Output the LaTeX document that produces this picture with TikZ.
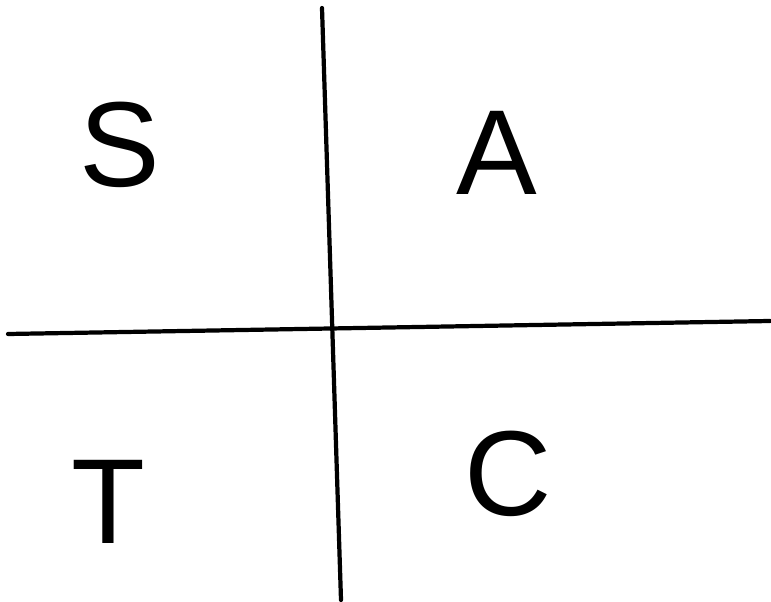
\documentclass[tikz,border=0pt]{standalone}
\usepackage{fontspec}
\setmainfont{Liberation Sans}
\usepackage{tikz}

\tikzset{
  axisline/.style={line width=3pt,line cap=round,black},
  quadletter/.style={font=\fontsize{86}{86}\selectfont, inner sep=0pt}
}

\begin{document}
\begin{tikzpicture}[x=0.025cm,y=-0.025cm]
		% canvas
		\useasboundingbox (0,0) rectangle (771,602);
		% ends of the two axes
		\coordinate (top) at (322,8);
		\coordinate (bottom) at (341,600);
		\coordinate (left) at (8,334);
		\coordinate (right) at (770,321);
		\draw[axisline] (top) -- (bottom);
		\draw[axisline] (left) -- (right);
		% quadrant letters
		\node[quadletter] (S) at (120,145) {S};
		\node[quadletter] (A) at (497,153) {A};
		\node[quadletter] (T) at (108,502) {T};
		\node[quadletter] (C) at (508,474) {C};
	\end{tikzpicture}
\end{document}
